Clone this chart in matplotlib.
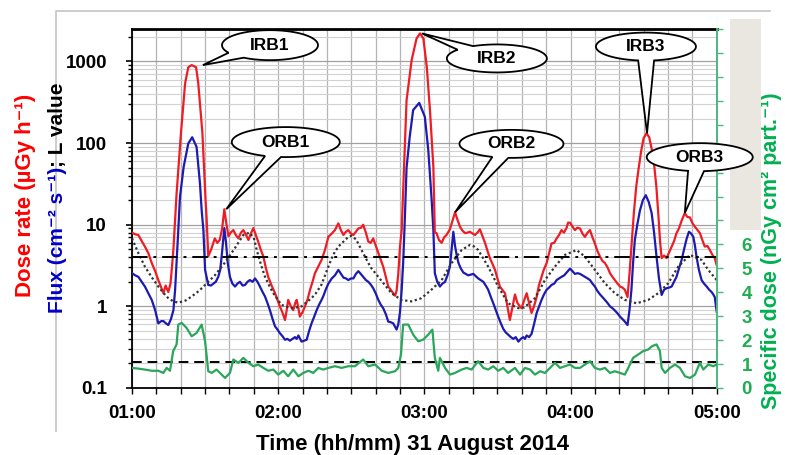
import numpy as np
import matplotlib
matplotlib.use('Agg')
from matplotlib import pyplot as plt
from matplotlib.patches import Polygon, Rectangle
from matplotlib.lines import Line2D
from matplotlib.transforms import IdentityTransform
from matplotlib.ticker import LogLocator, NullFormatter, FixedLocator

plt.rcParams['font.family'] = ['Liberation Sans', 'DejaVu Sans']
plt.rcParams['font.weight'] = 'bold'

#%% Datos (tiempo en minutos desde las 01:00)
t_dosis = [0, 1.5, 2.6, 4, 5.3, 6.7, 8.1, 9.5, 10.8, 12, 12.9, 13.8, 14.9, 15.8, 16.3, 17, 17.7,
           18.3, 20.1, 21.8, 23.1, 24.5, 26.3, 27.2, 28.9, 30.2, 30.6, 31.3, 32.5, 34, 35, 36, 37,
           37.9, 38.8, 39.6, 40.5, 41.6, 42.6, 43.7, 44.7, 45.7, 46.8, 47.8, 48.8, 49.8, 50.8, 51.8,
           52.8, 53.9, 54.9, 55.9, 57.3, 58.7, 59.7, 60.7, 61.7, 62.8, 63.5, 64.1, 65.2, 66.2, 67,
           67.6, 68.3, 68.9, 70, 71, 72, 73.1, 74.1, 75.1, 76.3, 77.8, 79.2, 80.6, 82, 83.3, 84.7,
           85.8, 86.8, 87.8, 88.8, 89.8, 90.9, 91.9, 92.9, 94, 94.9, 96, 97, 98, 99, 100, 101.1,
           102, 103.1, 104.2, 105.2, 106.2, 107.2, 108, 108.6, 109.3, 110, 110.7, 112.7, 114.8,
           116.8, 118.2, 119.6, 121, 122.3, 123.7, 124.3, 125, 126, 127.1, 128.1, 129.1, 130.5,
           131.5, 132.6, 133.6, 134.6, 135.6, 136.7, 137.7, 138.7, 139.8, 140.8, 141.8, 142.8,
           143.9, 144.9, 145.9, 146.9, 148, 149, 150, 151, 152, 153.1, 154.1, 155.1, 156.2, 157.2,
           158.2, 159.2, 159.9, 161, 162, 163, 164, 165, 166.1, 167, 168.1, 169, 170.2, 171.2,
           172.2, 173.3, 174.3, 175.3, 176.3, 177.3, 178.4, 179, 179.8, 180.8, 181.8, 182.8, 183.9,
           184.9, 185.9, 187, 188, 189, 190, 191, 192.1, 193.1, 194.1, 195.2, 196.2, 197.2, 198.2,
           199.3, 200.3, 201.3, 202.3, 203.4, 204.2, 205, 206, 207, 208, 209, 210, 211.2, 212.3,
           213.3, 214.3, 215.2, 216, 216.8, 217.4, 218.4, 219.4, 220.5, 221.5, 222.5, 223.5, 224.5,
           225.5, 226.9, 227.9, 229, 230, 231, 232, 233.1, 234.1, 235.1, 236.2, 237.2, 238.2, 239.2,
           240]
dosis = [8.0, 7.6, 7.5, 6.3, 5.4, 4.5, 3.4, 2.7, 2.1, 1.7, 1.45, 1.8, 1.5, 1.9, 2.8, 5.0, 11.5,
         24, 133, 540, 850, 903, 850, 540, 133, 20, 12.5, 4.1, 5.0, 6.8, 6.0, 6.5, 9.0,
         15.5, 10, 7.2, 8.0, 8.6, 7.5, 6.8, 8.0, 8.6, 7.5, 6.5, 7.8, 9.1, 7.5, 6.2,
         5.0, 4.1, 3.0, 2.3, 1.8, 1.45, 1.2, 1.0, 0.85, 0.68, 0.9, 1.2, 1.0, 0.9, 1.1,
         1.2, 0.95, 0.75, 0.85, 1.0, 1.2, 1.6, 2.0, 2.55, 3.0, 3.7, 4.9, 7.1, 7.8, 8.6, 10.4,
         8.5, 7.5, 8.2, 8.6, 7.8, 7.5, 8.2, 9.0, 9.2, 10, 8.0, 6.2, 6.0, 6.8, 5.6, 4.5,
         3.8, 3.07, 2.3, 1.75, 1.6, 1.45, 1.35, 1.55, 2.5, 5.4, 8.6, 335, 1045,
         1910, 2208, 1910, 860, 254, 51, 8.0, 7.9, 6.5, 6.0, 7.0, 7.5, 8.8,
         11, 14.2, 11.5, 9.5, 8.5, 7.9, 8.0, 8.2, 7.8, 7.5, 8.0, 8.8,
         7.2, 6.0, 4.8, 3.9, 3.3, 2.8, 2.2, 1.75, 1.6, 1.45, 1.0, 0.68, 1.0, 1.4,
         1.1, 1.0, 0.95, 1.2, 1.45, 1.1, 0.83, 1.0, 1.3, 1.8, 2.3, 2.8, 3.4, 4.5,
         5.9, 6.0, 6.8, 7.5, 8.6, 8.0, 9.2, 10.6, 10.6, 9.5, 8.6, 9.2, 9.0,
         7.8, 7.1, 8.0, 8.6, 7.0, 5.9, 4.8, 4.07, 3.6, 3.4, 3.0, 2.55, 2.3, 2.1,
         1.9, 1.75, 1.7, 1.6, 1.3, 2.5, 5.4, 14, 30, 50, 80, 115, 132, 118,
         85, 55, 30, 14, 6.0, 3.9, 4.2, 3.9, 4.6, 5.4, 6.3, 7.9, 9.0,
         11, 13.9, 12.5, 12.3, 10.5, 9.5, 8.7, 7.9, 6.5, 5.4, 5.5, 4.9, 4.3, 3.9,
         3.2]

t_flujo = [0, 1.3, 2.6, 4, 5.3, 6.7, 8.1, 9.5, 10.8, 12, 12.9, 13.9, 14.9, 16, 17, 17.7, 18.3, 19,
           19.7, 21.2, 23.1, 24.7, 26.5, 27.9, 28.6, 29.3, 30, 31.3, 32.4, 33.4, 34.4, 35.4, 36.2,
           36.8, 37.9, 38.6, 39.3, 40.2, 41.2, 42.3, 43.3, 44.3, 45.4, 46.4, 47.4, 48.4, 49.5, 50.5,
           51.5, 52.5, 53.6, 54.6, 55.6, 56.6, 57.7, 58.7, 59.7, 60.7, 61.8, 62.8, 63.8, 64.8, 65.9,
           66.9, 67.6, 68.3, 69.6, 70.6, 71.7, 72.7, 73.7, 74.8, 75.8, 76.8, 77.8, 78.6, 79.5, 80.6,
           82, 83.3, 84.7, 85.8, 86.8, 87.8, 88.8, 89.9, 90.9, 91.9, 92.9, 93.9, 94.9, 96, 97, 98,
           99, 100, 101.1, 102.1, 103.1, 104.2, 105.2, 106.2, 107.2, 108, 108.6, 109.3, 110, 110.7,
           111.3, 112, 112.7, 114, 115.4, 117.9, 120.2, 121.6, 123, 123.7, 124.3, 125.3, 126.4,
           127.4, 128.5, 129.5, 130.5, 131.2, 131.9, 132.6, 133.3, 134, 135, 136, 137, 138, 139,
           140.1, 141.1, 142.1, 143.1, 144.2, 145.2, 146.2, 147.3, 148.3, 149.3, 150.3, 151.4,
           152.4, 153.4, 154.4, 155.5, 156.5, 157.5, 158.6, 159.6, 160.6, 161.3, 162, 163, 164,
           165, 166.1, 167.1, 168.1, 169.1, 170.2, 171.2, 172.2, 173.3, 174.3, 175.3, 176.3, 177.4,
           178.4, 179.8, 180.8, 181.8, 182.9, 183.9, 184.9, 185.9, 187, 188, 189, 190, 191, 192.1,
           193.1, 194.1, 195.2, 196.2, 197.2, 198.2, 199.3, 200.3, 201.3, 202.3, 203.4, 204.2, 205,
           205.7, 206.4, 207.4, 208.5, 209.7, 210.9, 212.1, 213.3, 214.3, 215.3, 216.3, 217.4,
           218.4, 219.4, 220.5, 221.5, 222.5, 223.5, 224.5, 225.6, 226.6, 227.7, 228.6, 229.5,
           230.4, 231.1, 231.7, 232.7, 233.8, 234.8, 235.9, 236.9, 237.9, 238.6, 239.2, 240]
flujo = [2.55, 2.4, 2.3, 2.0, 1.75, 1.45, 1.2, 0.9, 0.62, 0.66, 0.66, 0.62, 0.59, 0.7, 0.9, 1.6, 3.4, 8.6,
         22, 51, 99, 118, 90, 32, 15, 8.6, 2.8, 1.83, 1.8, 1.9, 2.0, 2.3, 2.8,
         4.1, 9.1, 6.0, 3.4, 2.3, 1.9, 1.75, 1.9, 2.0, 1.8, 1.83, 2.0, 2.1, 2.0, 2.2,
         2.0, 1.75, 1.5, 1.32, 1.1, 0.9, 0.7, 0.57, 0.52, 0.47, 0.43, 0.39, 0.4, 0.38, 0.4,
         0.42, 0.4, 0.44, 0.37, 0.38, 0.39, 0.5, 0.62, 0.75, 0.9, 1.05, 1.2, 1.35, 1.6, 1.9,
         2.2, 2.4, 2.8, 2.5, 2.25, 2.2, 2.1, 2.2, 2.2, 2.5, 2.7, 2.5, 2.3, 2.1, 2.0, 1.85,
         1.67, 1.45, 1.2, 1.05, 0.95, 0.8, 0.65, 0.64, 0.62, 0.56, 0.52, 0.6, 0.85, 1.6,
         3.4, 12, 50, 120, 254, 311, 210, 83, 20, 8.6, 2.55, 2.0, 1.75,
         1.9, 2.0, 2.4, 3.07, 5.0, 8.2, 5.5, 4.2, 3.4, 2.9, 2.6, 2.5, 2.4, 2.45,
         2.5, 2.35, 2.2, 2.1, 2.0, 1.8, 1.6, 1.3, 1.09, 0.9, 0.75, 0.62,
         0.53, 0.48, 0.45, 0.42, 0.4, 0.42, 0.37, 0.4, 0.42, 0.4, 0.44, 0.42, 0.46,
         0.6, 0.83, 1.0, 1.2, 1.4, 1.6, 1.7, 1.83, 1.9, 2.1, 2.2, 2.3, 2.4,
         2.6, 2.9, 2.7, 2.5, 2.55, 2.5, 2.4, 2.3, 2.2, 2.1, 1.9, 1.75, 1.55, 1.4,
         1.3, 1.2, 1.1, 1.0, 0.95, 0.89, 0.82, 0.75, 0.7, 0.65, 0.59, 0.9, 1.6,
         3.5, 6.5, 10, 15, 20, 23, 19, 13.9, 8.0, 4.07, 2.2, 1.38,
         1.6, 1.67, 1.7, 1.75, 2.0, 2.3, 2.9, 3.7, 5.0, 6.8, 8.2, 7.8,
         7.1, 5.5, 4.07, 2.8, 2.1, 1.9, 1.75, 1.6, 1.5, 1.4, 1.3, 0.86]

t_L = [0, 2.6, 5.3, 8, 10.8, 13, 14.9, 17, 19, 22, 24.5, 27.5, 30, 34, 38, 42.2, 45.7, 48.2, 50,
       51.2, 53, 54.6, 56.5, 58, 61.4, 65.5, 69.6, 73.7, 75.5, 77.8, 80.6, 82.6, 84.7, 88.8, 90.1,
       92, 95.6, 98, 101.1, 106.5, 110.6, 114.7, 118.8, 122.9, 127.1, 131.2, 135.3, 138.7, 140.5,
       142.1, 146.2, 150.3, 154.4, 158.6, 161, 165.4, 169.5, 173.6, 177.7, 182.5, 185.9, 190,
       194.1, 198.2, 202.3, 207.1, 211.9, 216, 220.1, 224.2, 229, 233.8, 236.5, 240]
valor_L = [6.8, 4.5, 3.07, 2.3, 1.75, 1.45, 1.26, 1.15, 1.11, 1.18, 1.32, 1.55, 1.83, 2.4, 3.4, 5.15, 7.5, 8.0, 6.9,
           4.9, 3.2, 2.3, 1.75, 1.45, 1.04, 0.95, 1.0, 1.26, 1.45, 1.85, 3.07, 4.3, 5.4, 7.1, 7.3,
           6.6, 4.07, 3.0, 2.3, 1.45, 1.2, 1.15, 1.26, 1.6, 2.1, 3.4, 4.9, 5.66, 5.4,
           4.9, 3.07, 1.75, 1.09, 0.95, 0.97, 1.26, 2.1, 3.07, 4.27, 4.9, 4.07, 2.8,
           1.92, 1.45, 1.2, 1.09, 1.2, 1.45, 1.92, 3.07, 4.27, 3.7, 2.8, 2.1]

t_esp = [0, 2.6, 5.3, 8.1, 10.8, 12.9, 14.2, 15.6, 16.9, 18.3, 19.0, 20.4, 22.4, 24.5, 26.5, 28.6,
         30.0, 31.3, 32.7, 34.7, 36.8, 38.2, 40.2, 41.6, 43.7, 45.7, 47.8, 49.8, 51.8, 53.9, 55.9,
         58.0, 60.0, 62.1, 64.1, 66.2, 68.3, 70.3, 72.4, 74.4, 76.5, 78.5, 80.6, 83.3, 86.0, 88.8,
         91.5, 94.9, 97.0, 99.8, 102.5, 105.2, 108.0, 109.3, 110.4, 111.3, 113.4, 115.4, 117.5,
         119.5, 121.6, 123.3, 124.3, 125.7, 126.4, 128.5, 130.5, 132.6, 135.3, 137.4, 139.4,
         142.1, 144.2, 146.2, 148.3, 150.3, 152.4, 154.4, 157.2, 159.3, 161.3, 163.4, 165.4,
         167.5, 169.5, 171.6, 173.6, 175.7, 177.7, 179.8, 181.8, 183.9, 185.9, 188.0, 190.0,
         192.1, 194.1, 196.2, 198.2, 200.3, 202.3, 203.7, 205.7, 207.8, 209.8, 211.9, 213.5,
         215.3, 216.7, 217.4, 218.8, 220.8, 222.9, 224.9, 227.0, 229.0, 231.1, 233.1, 234.5,
         236.5, 238.6, 240.0]
dosis_esp = [0.84, 0.81, 0.77, 0.72, 0.72, 0.63, 0.84, 0.72, 1.54, 1.82, 2.65, 2.72, 2.51, 2.16, 2.30, 2.65,
             1.95, 0.70, 0.63, 0.77, 0.56, 0.42, 0.63, 1.19, 1.05, 1.26, 1.05, 0.91, 0.98, 0.84, 0.72,
             0.77, 0.56, 0.72, 0.49, 0.77, 0.49, 0.63, 0.72, 0.63, 0.84, 0.77, 0.84, 0.91, 0.84, 0.91,
             0.91, 1.19, 0.91, 0.98, 0.72, 0.63, 0.70, 0.84, 1.40, 2.65, 2.65, 2.23, 1.95,
             2.02, 2.23, 2.44, 1.26, 0.72, 1.26, 0.84, 0.56, 0.63, 0.77, 0.84, 0.77,
             1.12, 0.84, 0.77, 0.91, 0.72, 0.84, 0.63, 0.84, 0.56, 0.84, 0.77, 0.56,
             0.70, 0.63, 0.84, 1.05, 0.84, 0.91, 0.98, 0.84, 0.84, 0.98, 1.12, 0.84,
             0.77, 0.84, 0.63, 0.70, 0.63, 0.56, 0.84, 1.26, 1.40, 1.54, 1.61, 1.75,
             1.82, 1.54, 0.84, 0.63, 0.84, 0.98, 0.84, 0.49, 0.42, 0.56, 1.05, 0.77,
             0.98, 0.91, 0.98]

linea_dashdot = 4.0    # umbral (escala izquierda)
linea_dashed = 0.21

horas = [0, 60, 120, 180, 240]
etiquetas_horas = ['01:00', '02:00', '03:00', '04:00', '05:00']
ticks_log = [0.1, 1, 10, 100, 1000]
etiquetas_log = ['0.1', '1', '10', '100', '1000']
ticks_esp = list(range(16))
etiquetas_esp = ['0', '1', '2', '3', '4', '5', '6'] + [''] * 9

# globos: texto, ventana de busqueda del pico (min), desplazamiento de la punta (min),
# centro del globo (fraccion de ejes), tamanio (px)
globos = [('IRB1', (15, 35), 4.6, (0.236, 0.955), (96, 30)),
          ('ORB1', (35, 45), 0.8, (0.263, 0.685), (108, 30)),
          ('IRB2', (105, 125), 0.8, (0.624, 0.918), (100, 28)),
          ('ORB2', (128, 140), 0.0, (0.649, 0.680), (104, 28)),
          ('IRB3', (204, 218), 0.2, (0.879, 0.951), (100, 28)),
          ('ORB3', (220, 235), 0.0, (0.971, 0.643), (106, 28))]

ROJO = '#ee1c25'
AZUL = '#1c1ab0'
VERDE = '#2aa65a'
VERDE_TXT = '#1fad50'

W, H = 785, 455
fig = plt.figure(figsize=(W / 100, H / 100), dpi=100)
ax = fig.add_axes([132 / W, 67 / H, 584.7 / W, 359 / H])

ax.set_yscale('log')
ax.set_xlim(0, 240)
ax.set_ylim(0.1, 2500)

# rejilla
ax.set_xticks(horas)
ax.set_xticklabels(etiquetas_horas)
ax.xaxis.set_minor_locator(FixedLocator(np.arange(0, 241, 10)))
ax.set_yticks(ticks_log)
ax.set_yticklabels(etiquetas_log)
ax.yaxis.set_minor_locator(LogLocator(base=10, subs=np.arange(2, 10)))
ax.yaxis.set_minor_formatter(NullFormatter())
ax.grid(which='major', axis='y', color='#a0a0a0', lw=0.9)
ax.grid(which='minor', axis='y', color='#d2d2d2', lw=0.8)
ax.grid(which='both', axis='x', color='#b4b4b4', lw=0.9)
ax.set_axisbelow(True)

ax.tick_params(axis='x', which='both', direction='out', length=4, width=1, pad=8, labelsize=13.5)
ax.tick_params(axis='y', which='major', direction='out', length=4, width=1.2, pad=14, labelsize=13.5)
ax.tick_params(axis='y', which='minor', direction='out', length=3, width=1)
for s in ['left', 'bottom']:
    ax.spines[s].set_linewidth(1.3)
ax.spines['top'].set_linewidth(2.0)
ax.spines['right'].set_visible(False)

ax.plot(t_flujo, flujo, color=AZUL, lw=1.6, zorder=3)
ax.plot(t_dosis, dosis, color=ROJO, lw=1.6, zorder=3.1)
ax.plot(t_L, valor_L, color='#333333', lw=1.6, ls=(0, (1, 1.2)), zorder=3.2)
ax.axhline(linea_dashdot, color='black', lw=1.4, ls=(0, (8, 3, 1.5, 3)), zorder=3.5)
ax.axhline(linea_dashed, color='black', lw=1.4, ls=(0, (5, 3)), zorder=3.5)

ax2 = ax.twinx()
ax2.set_position(ax.get_position())
ax2.set_ylim(0, 15)
ax2.set_yticks(ticks_esp)
ax2.set_yticklabels(etiquetas_esp)
ax2.plot(t_esp, dosis_esp, color=VERDE, lw=1.6, zorder=3)
for s in ['left', 'top', 'bottom']:
    ax2.spines[s].set_visible(False)
ax2.spines['right'].set_color('#4cb87c')
ax2.spines['right'].set_linewidth(1.4)
ax2.tick_params(axis='y', direction='out', length=4, width=1, color='#4cb87c',
                labelcolor=VERDE_TXT, pad=14, labelsize=13.5)

# etiquetas de ejes
fig.text(31 / W, 1 - 195 / H, 'Dose rate (µGy h⁻¹)', color='red', fontsize=16,
         rotation=90, rotation_mode='anchor', ha='center', va='baseline')
t_azul = fig.text(63 / W, 1 - 313 / H, 'Flux (cm⁻² s⁻¹)', color='#0000c8', fontsize=15,
                  rotation=90, rotation_mode='anchor', ha='left', va='baseline')
fig.canvas.draw()
bb = t_azul.get_window_extent()
fig.text(63 / W, bb.y1 / H, '; L value', color='black', fontsize=15,
         rotation=90, rotation_mode='anchor', ha='left', va='baseline')
fig.text(777 / W, 1 - 251 / H, 'Specific dose (nGy cm² part.⁻¹)', color='#00b050',
         fontsize=15.5, rotation=90, rotation_mode='anchor', ha='center', va='baseline')
fig.text(412 / W, 1 - 450 / H, 'Time (hh/mm) 31 August 2014', fontsize=16,
         ha='center', va='baseline')

# marco gris exterior y recuadro
fig.add_artist(Line2D([56, 56, 770], [H - 431, H - 11, H - 11], transform=IdentityTransform(),
                      color='#c4c4c4', lw=1.2))
fig.add_artist(Rectangle((730, H - 230), 31, 211, transform=IdentityTransform(),
                         facecolor='#e9e7df', edgecolor='none', zorder=5))

# globos
t_arr = np.array(t_dosis)
d_arr = np.array(dosis)
for texto, (t0, t1), dt, centro, tam in globos:
    m = (t_arr >= t0) & (t_arr <= t1)
    i = np.argmax(d_arr[m])
    px, py = ax.transData.transform((t_arr[m][i] + dt, d_arr[m][i]))
    cx, cy = ax.transAxes.transform(centro)
    a, b = tam[0] / 2, tam[1] / 2
    ang = np.arctan2((py - cy) / b, (px - cx) / a)
    d = 8 / np.hypot(a * np.sin(ang), b * np.cos(ang))
    tt = np.linspace(ang + d, ang + 2 * np.pi - d, 150)
    xs = np.append(cx + a * np.cos(tt), px)
    ys = np.append(cy + b * np.sin(tt), py)
    fig.add_artist(Polygon(np.column_stack([xs, ys]), closed=True, transform=IdentityTransform(),
                           facecolor='white', edgecolor='black', lw=1.3, zorder=10))
    fig.text(cx / W, cy / H, texto, fontsize=12.5, ha='center', va='center', zorder=11)

plt.savefig('out.png', dpi=100)
